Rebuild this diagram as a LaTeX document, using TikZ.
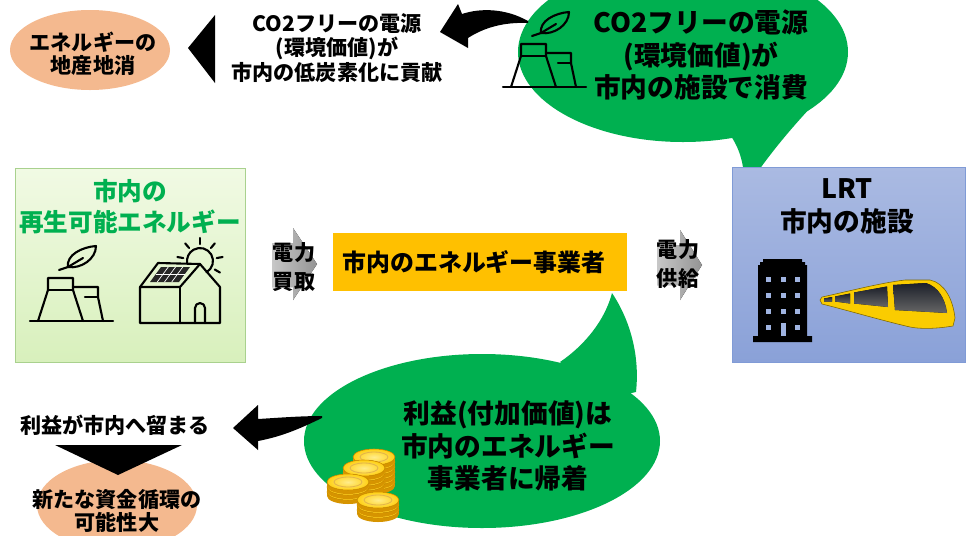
\documentclass[tikz,border=0pt]{standalone}
\usepackage{fontspec}
\setmainfont{Noto Sans CJK JP}
\usetikzlibrary{positioning, shadows}

\definecolor{bubblegreen}{RGB}{0,176,80}
\definecolor{goalsalmon}{RGB}{244,185,143}
\definecolor{bizorange}{RGB}{255,192,0}
\definecolor{renewtop}{RGB}{241,250,228}
\definecolor{renewbot}{RGB}{216,240,188}
\definecolor{renewedge}{RGB}{169,209,142}
\definecolor{lrttop}{RGB}{170,186,226}
\definecolor{lrtbot}{RGB}{138,161,216}
\definecolor{lrtedge}{RGB}{128,155,214}
\definecolor{lrtwin}{RGB}{160,180,225}
\definecolor{coinface}{RGB}{255,208,20}
\definecolor{coinshine}{RGB}{255,236,140}
\definecolor{coinrim}{RGB}{214,148,0}
\definecolor{trainbody}{RGB}{250,204,0}
\definecolor{trainglass}{RGB}{28,32,42}

% one stack of coins: x and y of the top coin, number of coins
\newcommand{\coinstack}[3]{%
  \foreach \k in {#3,...,1}{
    \pgfmathsetmacro{\cy}{#2+5*(\k-1)}
    \fill[coinrim] (#1,\cy+4) ellipse [x radius=21, y radius=8];
    \fill[coinrim] (#1-21,\cy) rectangle (#1+21,\cy+4);
    \fill[inner color=coinshine, outer color=coinface, draw=coinrim, line width=0.4pt]
      (#1,\cy) ellipse [x radius=21, y radius=8];
  }
  \draw[coinrim!70!white, line width=0.6pt] (#1,#2) ellipse [x radius=14, y radius=5];
}

\tikzset{
  iconline/.style={line width=1.5pt, line cap=round, line join=round},
  smalltext/.style={inner sep=0pt, align=center, font=\bfseries\fontsize{15}{17.5}\selectfont},
  goaltext/.style={smalltext, font=\bfseries\fontsize{15}{16.5}\selectfont},
  flowtext/.style={smalltext, font=\bfseries\fontsize{15}{21}\selectfont},
  bubbletext/.style={inner sep=0pt, align=center, font=\bfseries\fontsize{19}{23}\selectfont},
  boxtext/.style={inner sep=0pt, align=center, font=\bfseries\fontsize{17.5}{22}\selectfont},
  flowarrow/.style={left color=black!22, right color=black!42},
  glass/.style={top color=trainglass, bottom color=black!60},
  softshadow/.style={drop shadow={shadow xshift=0.8pt, shadow yshift=-0.8pt, opacity=0.3}},
  % cooling towers with a leaf (y up, origin at the ground line)
  ecoplant/.pic={
    \draw[iconline] (0,0) -- (83,0);
    \draw[iconline] (8,0) -- (18,31) -- (18,43) -- (43,43) -- (43,31) -- (53,0);
    \draw[iconline] (18,31) -- (43,31);
    \draw[iconline] (43,34) -- (68,34) -- (68,24) -- (73,0);
    \draw[iconline] (55,24) -- (68,24);
    \draw[iconline] (38,54) .. controls (36,66) and (52,74) .. (66,75)
      .. controls (66,62) and (51,52) .. (38,54);
    \draw[iconline] (38,54) -- (53,63);
    \draw[iconline] (29,51) -- (38,54);
  },
  % house with roof panels and the sun
  solarhouse/.pic={
    \draw[iconline] (60,62) ++(-60:13) arc[start angle=-60, end angle=189, radius=13];
    \foreach \a in {170,130,90,50,10,-30}
      \draw[iconline] (60,62) ++(\a:17) -- ++(\a:6);
    \draw[iconline] (0,36) -- (0,0) -- (80,0) -- (80,36) -- (60,59) -- (40,36) -- cycle;
    \draw[iconline] (40,36) -- (40,0);
    \draw[iconline] (0,36) -- (18,60) -- (60,59);
    \draw[iconline] (55,0) -- (55,15) arc[start angle=180, end angle=0, radius=5] -- (65,0);
    \fill[black!85] (10,41) -- (21,56) -- (50,56) -- (39,41) -- cycle;
    \foreach \t in {0.25,0.5,0.75}
      \draw[white, line width=0.5pt] (10+29*\t,41) -- (21+29*\t,56);
    \draw[white, line width=0.5pt] (15.5,48.5) -- (44.5,48.5);
  }
}

\begin{document}
\begin{tikzpicture}[x=0.025cm, y=-0.025cm]
  \clip (0,0) rectangle (968,535);

  % local production goal
  \fill[goalsalmon] (90,50) ellipse [x radius=80, y radius=40];
  \node[goaltext] (chisan) at (93,54) {エネルギーの\\地産地消};
  \fill (188,48) -- (215,15) -- (215,83) -- cycle;
  \node[smalltext] (teitanso) at (337,48) {CO2フリーの電源\\(環境価値)が\\市内の低炭素化に貢献};

  % bubble: green power used by city facilities
  \fill[bubblegreen] (683,52) ellipse [x radius=165, y radius=90];
  \fill[bubblegreen] (728,132) .. controls (742,150) and (746,172) .. (743,193)
    .. controls (765,160) and (785,135) .. (812,106) -- (770,100) -- cycle;
  \pic[yscale=-1] at (503,87) {ecoplant};
  \node[bubbletext] (shohi) at (701,55) {CO2フリーの電源\\(環境価値)が\\市内の施設で消費};
  \fill (528,21) .. controls (505,8) and (480,8) .. (462,14) -- (458,4) -- (440,32)
    -- (468,48) -- (468,38) .. controls (485,27) and (505,22) .. (528,23) -- cycle;

  % renewable energy in the city
  \draw[renewedge, top color=renewtop, bottom color=renewbot, softshadow] (15,168) rectangle (245,362);
  \node[boxtext, text=bubblegreen] (saiene) at (130,207) {市内の\\再生可能エネルギー};
  \pic[yscale=-1] at (30,321) {ecoplant};
  \pic[yscale=-1] at (140,323) {solarhouse};

  % purchase and supply of power
  \fill[flowarrow] (272,243) -- (293,243) -- (293,228) -- (317,264) -- (293,300) -- (293,287) -- (272,287) -- cycle;
  \node[flowtext] (kaitori) at (294,267) {電力\\買取};
  \fill[bizorange] (333,233) rectangle (627,291);
  \node[boxtext, font=\bfseries\fontsize{17}{20}\selectfont] (jigyosha) at (474,262) {市内のエネルギー事業者};
  \fill[flowarrow] (657,245) -- (680,245) -- (680,230) -- (702,265) -- (680,300) -- (680,285) -- (657,285) -- cycle;
  \node[flowtext] (kyokyu) at (678,264) {電力\\供給};

  % LRT and city facilities
  \draw[lrtedge, top color=lrttop, bottom color=lrtbot, softshadow] (732,167) rectangle (965,362);
  \node[boxtext, font=\bfseries\fontsize{19}{23.5}\selectfont] (shisetsu) at (847,206) {LRT\\市内の施設};
  \fill (753,342) -- (753,336) -- (758,336) -- (758,265) -- (760,265) -- (760,262) -- (763,262)
    -- (763,259) -- (802,259) -- (802,262) -- (805,262) -- (805,265) -- (807,265) -- (807,336)
    -- (812,336) -- (812,342) -- cycle;
  \foreach \wx in {768,783,797}
    \foreach \wy in {279,295,311}
      \fill[lrtwin] (\wx-2.5,\wy-2.5) rectangle ++(5,5);
  \fill[lrtwin] (765.5,324.5) rectangle ++(5,5);
  \fill[lrtwin] (794.5,324.5) rectangle ++(5,5);
  \fill[lrtwin] (780.5,323) rectangle (785.5,336);
  \fill[trainbody, draw=black!50!trainbody, line width=0.4pt]
    (820,300) -- (822,297) .. controls (850,291) and (880,283) .. (905,280)
    -- (930,280) .. controls (945,283) and (953,300) .. (955,318)
    -- (953,326) .. controls (935,329) and (920,329) .. (910,327)
    .. controls (880,320) and (850,311) .. (822,304) -- cycle;
  \fill[glass] (824,298.5) -- (832,297) -- (832,301.5) -- (824,301.5) -- cycle;
  \fill[glass] (835,296.5) -- (850,293.5) -- (850,303.5) -- (835,301.5) -- cycle;
  \fill[glass] (854,292.5) -- (887,286.5) -- (888,307) -- (854,303.5) -- cycle;
  \fill[glass] (893,285) -- (926,283) .. controls (938,287) and (945,298) .. (947,313)
    -- (895,310) -- cycle;

  % bubble: profit stays with the energy company
  \fill[bubblegreen] (482,441) ellipse [x radius=178, y radius=87];
  \fill[bubblegreen] (560,362) .. controls (585,345) and (605,320) .. (612,293)
    .. controls (630,320) and (640,355) .. (636,392) -- (600,400) -- cycle;
  \coinstack{374}{457}{6}
  \coinstack{364}{468}{4}
  \coinstack{348}{482}{3}
  \coinstack{378}{500}{3}
  \node[bubbletext] (kichaku) at (508,446) {利益(付加価値)は\\市内のエネルギー\\事業者に帰着};
  \fill (322,416) .. controls (300,416) and (275,418) .. (258,419) -- (258,405) -- (233,428)
    -- (258,450) -- (258,441) .. controls (285,436) and (305,426) .. (322,418) -- cycle;

  % money circulating in the city
  \node[smalltext] (todomaru) at (115,425) {利益が市内へ留まる};
  \fill[goalsalmon] (117,505) ellipse [x radius=80, y radius=45];
  \fill (55,445) -- (182,445) -- (118,475) -- cycle;
  \node[goaltext] (junkan) at (117,511) {新たな資金循環の\\可能性大};
\end{tikzpicture}
\end{document}
